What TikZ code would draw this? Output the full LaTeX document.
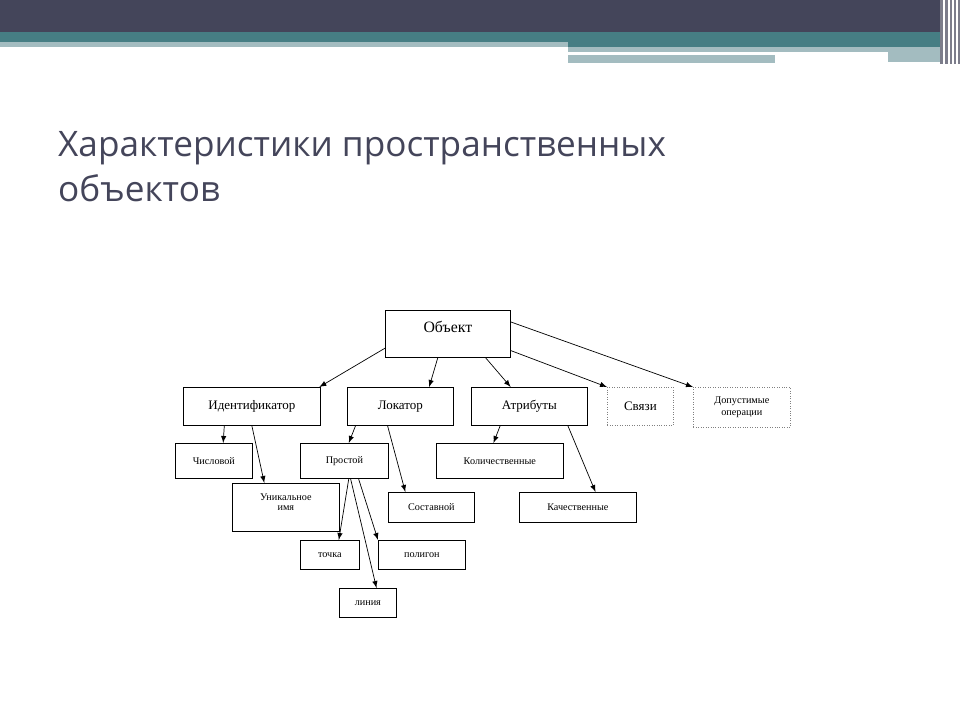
\documentclass[tikz,border=0pt]{standalone}
\usepackage{fontspec}
\setmainfont{Liberation Serif}
\newfontfamily\titlefont{Open Sans}
\usetikzlibrary{calc}
\definecolor{barDark}{HTML}{44455A}
\definecolor{barTeal}{HTML}{467E84}
\definecolor{barLight}{HTML}{A3BCC0}

\begin{document}
\begin{tikzpicture}[x=0.02cm,y=-0.02cm,>=latex]
  \tikzstyle{box} = [draw, thin, inner sep=0pt, anchor=north west, align=center]
  \tikzstyle{softbox} = [box, densely dotted, gray]
  \tikzstyle{link} = [->, thin]
  \tikzstyle{big} = [font=\fontsize{7.4}{8.5}\selectfont]
  \tikzstyle{small} = [font=\fontsize{5.8}{7}\selectfont]

  \useasboundingbox (0,0) rectangle (960,720);
  % header bars
  \fill[barDark] (0,0) rectangle (960,32);
  \fill[barTeal] (0,32) rectangle (940,42);
  \fill[barLight] (0,42) rectangle (568,47);
  \fill[barTeal] (568,42) rectangle (940,47);
  \fill[barLight] (568,47) rectangle (940,52);
  \fill[barLight] (568,55) rectangle (775,63);
  \fill[barLight] (888,52) rectangle (940,62);
  \fill[barDark!70] (940,0) rectangle (960,64);
  \foreach \xx in {944,949,953,957} \draw[white, line width=0.6pt] (\xx,0) -- (\xx,64);

  \node[anchor=north west, align=left, text=barDark, font=\titlefont\fontsize{20}{26}\selectfont]
    (title) at (52,125) {Характеристики пространственных\\объектов};

  % boxes
  \node[box, minimum width=125*0.02cm, minimum height=47*0.02cm, font=\fontsize{9}{10}\selectfont] (obj) at (385,310) {\raisebox{8pt}{Объект}};
  \node[box, big, minimum width=137*0.02cm, minimum height=38*0.02cm] (ident) at (183,387) {Идентификатор};
  \node[box, big, minimum width=106*0.02cm, minimum height=38*0.02cm] (loc) at (347,387) {Локатор};
  \node[box, big, minimum width=116*0.02cm, minimum height=38*0.02cm] (attr) at (471,387) {Атрибуты};
  \node[softbox, big, text=black, minimum width=66*0.02cm, minimum height=38*0.02cm] (rel) at (607,387) {Связи};
  \node[softbox, small, text=black, minimum width=97*0.02cm, minimum height=40*0.02cm] (ops) at (693,387) {Допустимые\\операции};
  \node[box, small, minimum width=77*0.02cm, minimum height=35*0.02cm] (num) at (175,443) {Числовой};
  \node[box, small, minimum width=88*0.02cm, minimum height=35*0.02cm] (simple) at (300,443) {Простой};
  \node[box, small, minimum width=127*0.02cm, minimum height=35*0.02cm] (quant) at (436,443) {Количественные};
  \node[box, small, minimum width=107*0.02cm, minimum height=48*0.02cm] (uname) at (232,483) {\raisebox{6pt}{\shortstack{Уникальное\\имя}}};
  \node[box, small, minimum width=86*0.02cm, minimum height=30*0.02cm] (comp) at (388,492) {Составной};
  \node[box, small, minimum width=117*0.02cm, minimum height=30*0.02cm] (qual) at (519,492) {Качественные};
  \node[box, small, minimum width=59*0.02cm, minimum height=29*0.02cm] (point) at (300,540) {точка};
  \node[box, small, minimum width=87*0.02cm, minimum height=29*0.02cm] (poly) at (378,540) {полигон};
  \node[box, small, minimum width=57*0.02cm, minimum height=29*0.02cm] (line) at (339,588) {линия};

  % connectors
  \draw[link] ($(obj.south west)!0.2!(obj.north west)$) -- ($(ident.north west)!0.99!(ident.north east)$);
  \draw[link] ($(obj.south west)!0.42!(obj.south east)$) -- ($(loc.north west)!0.77!(loc.north east)$);
  \draw[link] ($(obj.south west)!0.8!(obj.south east)$) -- ($(attr.north west)!0.34!(attr.north east)$);
  \draw[link] ($(obj.south east)!0.15!(obj.north east)$) -- (rel.north west);
  \draw[link] ($(obj.south east)!0.75!(obj.north east)$) -- (ops.north west);
  \draw[link] ($(ident.south west)!0.3!(ident.south east)$) -- ($(num.north west)!0.62!(num.north east)$);
  \draw[link] ($(ident.south west)!0.5!(ident.south east)$) -- ($(uname.north west)!0.3!(uname.north east)$);
  \draw[link] ($(loc.south west)!0.08!(loc.south east)$) -- ($(simple.north west)!0.55!(simple.north east)$);
  \draw[link] ($(loc.south west)!0.38!(loc.south east)$) -- ($(comp.north west)!0.2!(comp.north east)$);
  \draw[link] ($(attr.south west)!0.25!(attr.south east)$) -- ($(quant.north west)!0.45!(quant.north east)$);
  \draw[link] ($(attr.south west)!0.83!(attr.south east)$) -- ($(qual.north west)!0.65!(qual.north east)$);
  \draw[link] ($(simple.south west)!0.55!(simple.south east)$) -- ($(point.north west)!0.65!(point.north east)$);
  \draw[link] ($(simple.south west)!0.57!(simple.south east)$) -- ($(line.north west)!0.65!(line.north east)$);
  \draw[link] ($(simple.south west)!0.66!(simple.south east)$) -- (poly.north west);
\end{tikzpicture}
\end{document}
